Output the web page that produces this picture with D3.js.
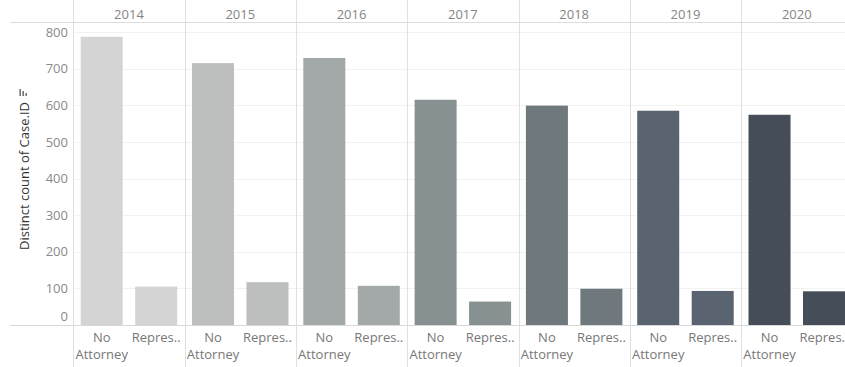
<!DOCTYPE html>
<html>
<head>
<meta charset="utf-8">
<script src="https://cdn.jsdelivr.net/npm/d3@7"></script>
<style>
  html, body { margin: 0; padding: 0; background: #fff; }
  svg { display: block; font-family: "Open Sans", "Noto Sans", sans-serif; }
</style>
</head>
<body>
<svg id="chart" width="845" height="367"></svg>
<script>
// Distinct count of case IDs by year and representation status
const years = ["2014", "2015", "2016", "2017", "2018", "2019", "2020"];
const statuses = ["No Attorney", "Represented"];
const statusLabels = [["No", "Attorney"], ["Repres.."]];
const noAttorney  = [787, 715, 729, 615, 599, 585, 574];
const represented = [105, 117, 107, 64, 99, 93, 92];
const yearColors = ["#d4d4d4", "#bcbfbd", "#a3a8a9", "#889191", "#6e787d", "#5a6470", "#454d59"];
const yTicks = [0, 100, 200, 300, 400, 500, 600, 700, 800];

const rows = [];
years.forEach((y, i) => {
  rows.push({ year: y, status: statuses[0], value: noAttorney[i], color: yearColors[i] });
  rows.push({ year: y, status: statuses[1], value: represented[i], color: yearColors[i] });
});

const svg = d3.select("#chart");
const W = 845, H = 367;
const plotLeft = 73.3, panelW = 111.3;
const headerY = 22, baseY = 325;

const xYear = d3.scaleBand().domain(years).range([plotLeft, plotLeft + panelW * years.length]);
const xStatus = d3.scaleBand().domain(statuses).range([0, panelW]).paddingInner(0.229).paddingOuter(0.136);
const y = d3.scaleLinear().domain([0, 800]).range([baseY, 32]);

// horizontal gridlines
svg.append("g").selectAll("line").data(yTicks.filter(t => t > 0)).join("line")
  .attr("x1", plotLeft).attr("x2", W)
  .attr("y1", d => Math.round(y(d)) + 0.5).attr("y2", d => Math.round(y(d)) + 0.5)
  .attr("stroke", "#f2f2f2").attr("stroke-width", 1);

// panel separators
svg.append("g").selectAll("line").data(years).join("line")
  .attr("x1", d => Math.round(xYear(d)) + 0.5).attr("x2", d => Math.round(xYear(d)) + 0.5)
  .attr("y1", 0).attr("y2", H)
  .attr("stroke", "#e0e0e0").attr("stroke-width", 1);

// header rule
svg.append("line").attr("x1", 10).attr("x2", W).attr("y1", headerY + 0.5).attr("y2", headerY + 0.5)
  .attr("stroke", "#dcdcdc");

// bars
svg.append("g").selectAll("rect").data(rows).join("rect")
  .attr("x", d => xYear(d.year) + xStatus(d.status))
  .attr("width", xStatus.bandwidth())
  .attr("y", d => y(d.value))
  .attr("height", d => y(0) - y(d.value))
  .attr("fill", d => d.color);

// baseline
svg.append("line").attr("x1", 10).attr("x2", W).attr("y1", baseY + 0.5).attr("y2", baseY + 0.5)
  .attr("stroke", "#d8d8d8");

// year headers
svg.append("g").selectAll("text").data(years).join("text")
  .attr("x", d => xYear(d) + panelW / 2).attr("y", 18.5)
  .attr("text-anchor", "middle").attr("font-size", 13).attr("fill", "#858585")
  .text(d => d);

// y axis
const yAxis = d3.axisLeft(y).tickValues(yTicks).tickSize(0).tickPadding(0);
const ya = svg.append("g").attr("transform", `translate(68,0)`).call(yAxis);
ya.select(".domain").remove();
ya.selectAll("text").attr("font-size", 13).attr("fill", "#8a8a8a")
  .attr("font-family", "'Open Sans', 'Noto Sans', sans-serif")
  .attr("dy", d => d === 0 ? "-0.35em" : "0.32em");

// y axis title with sort glyph
const titleX = 28.5, titleY = 176;
svg.append("text")
  .attr("transform", `translate(${titleX},${titleY}) rotate(-90)`)
  .attr("text-anchor", "middle").attr("font-size", 13).attr("fill", "#333")
  .text("Distinct count of Case.ID");
const glyph = svg.append("g").attr("transform", `translate(${titleX - 9},${titleY - 80})`);
[[0, 7], [3, 5], [6, 3]].forEach(([dx, len]) => {
  glyph.append("rect").attr("x", dx).attr("y", -len).attr("width", 1.3).attr("height", len).attr("fill", "#555");
});

// category labels
years.forEach(yr => {
  statuses.forEach((st, si) => {
    const cx = xYear(yr) + xStatus(st) + xStatus.bandwidth() / 2;
    const t = svg.append("text").attr("text-anchor", "middle")
      .attr("font-size", 13).attr("fill", "#777");
    statusLabels[si].forEach((line, li) => {
      t.append("tspan").attr("x", cx).attr("y", 342 + li * 17).text(line);
    });
  });
});
</script>
</body>
</html>
